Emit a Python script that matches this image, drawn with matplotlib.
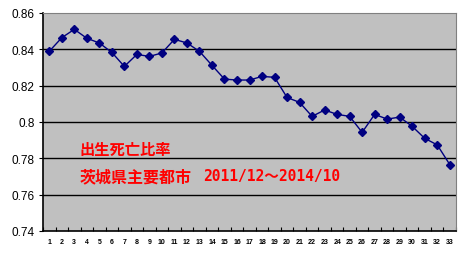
import numpy as np
import matplotlib
matplotlib.use("Agg")
import matplotlib.pyplot as plt

plt.rcParams['font.family'] = ['Liberation Sans', 'Noto Sans CJK JP', 'DejaVu Sans']

months = list(range(1, 34))
ratio = [0.8389, 0.8464, 0.8510, 0.8461, 0.8435, 0.8383, 0.8306, 0.8372, 0.8361, 0.8380,
         0.8455, 0.8435, 0.8389, 0.8312, 0.8236, 0.8231, 0.8231, 0.8251, 0.8246, 0.8135,
         0.8108, 0.8031, 0.8066, 0.8042, 0.8031, 0.7943, 0.8042, 0.8016, 0.8027, 0.7976,
         0.7910, 0.7874, 0.7766]
yticks = [0.74, 0.76, 0.78, 0.8, 0.82, 0.84, 0.86]
ylabels = ['0.74', '0.76', '0.78', '0.8', '0.82', '0.84', '0.86']
title1 = '出生死亡比率'
title2 = '茨城県主要都市'
period = '2011/12～2014/10'

fig = plt.figure(figsize=(4.62, 2.55), dpi=100)
ax = fig.add_axes([43/462, 1 - 232/255, 413/462, 218/255])
ax.set_facecolor('#c0c0c0')

ax.plot(months, ratio, color='#000080', lw=1, marker='D', markersize=4.5,
        markerfacecolor='#000080', markeredgecolor='#000080', zorder=3)

ax.set_xlim(0.5, 33.5)
ax.set_ylim(0.74, 0.86)
ax.set_yticks(yticks)
ax.set_yticklabels(ylabels, fontsize=8.5)
ax.set_xticks(months)
ax.set_xticklabels([str(m) for m in months], fontsize=5, fontweight='bold')
ax.set_xticks(np.arange(0.5, 34, 1), minor=True)
ax.tick_params(axis='x', which='major', length=0, pad=5)
ax.tick_params(axis='x', which='minor', length=3, direction='in', width=0.8)
ax.tick_params(axis='y', length=3, width=0.8, pad=3)

for v in yticks[1:-1]:
    ax.axhline(v, color='black', lw=1, zorder=1)

for s in ['top', 'right']:
    ax.spines[s].set_color('#808080')
for s in ['left', 'bottom']:
    ax.spines[s].set_color('black')
    ax.spines[s].set_linewidth(1.2)

fig.text(79/462, 1 - 150/255, title1, color='#ff0000', fontsize=11, fontweight='bold',
         va='center', family=['Noto Sans CJK JP'])
fig.text(80/462, 1 - 177/255, title2, color='#ff0000', fontsize=11.5, fontweight='bold',
         va='center', family=['Noto Sans CJK JP'])
fig.text(203/462, 1 - 177/255, period, color='#ff0000', fontsize=10.5, fontweight='bold',
         va='center', family=['DejaVu Sans Mono', 'Noto Sans CJK JP'])

fig.savefig('out.png', dpi=100)
